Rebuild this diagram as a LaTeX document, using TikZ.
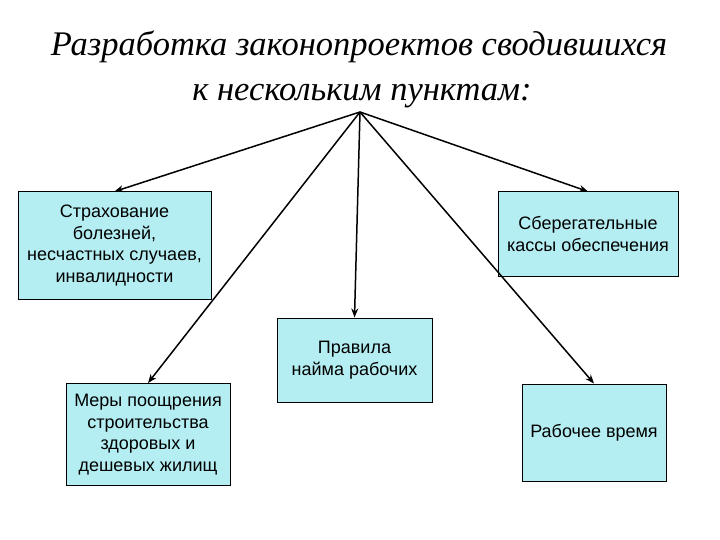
\documentclass[tikz,border=0pt]{standalone}
\usepackage{fontspec}
\setmainfont{Liberation Sans}
\newfontfamily\titlefont{Liberation Serif}
\usetikzlibrary{arrows.meta}
\definecolor{boxfill}{RGB}{180,238,242}
\begin{document}
\begin{tikzpicture}[x=1pt,y=-1pt,
  box/.style={draw=black, line width=1pt, fill=boxfill, inner sep=1pt,
    align=center, font=\fontsize{18}{21.5}\selectfont},
  conn/.style={line width=1.5pt, -{Stealth[length=9pt,width=7pt]}}]
\useasboundingbox (0,0) rectangle (720,540);
\fill[white] (0,0) rectangle (720,540);
\node[anchor=base, font=\titlefont\itshape\fontsize{34.5}{40}\selectfont] (t1) at (359,56) {Разработка законопроектов сводившихся};
\node[anchor=base, font=\titlefont\itshape\fontsize{34.5}{40}\selectfont] (t2) at (362,101) {к нескольким пунктам:};
\coordinate (apex) at (360,112);
\node[box, minimum width=193pt, minimum height=107pt] (b1) at (114.5,245.5) {Страхование\\болезней,\\несчастных случаев,\\инвалидности};
\node[box, minimum width=180pt, minimum height=84pt] (b2) at (588,234) {Сберегательные\\кассы обеспечения};
\node[box, minimum width=155pt, minimum height=84pt] (b3) at (354.5,360) {Правила\\найма рабочих};
\node[box, minimum width=164pt, minimum height=102pt] (b4) at (148,434.5) {Меры поощрения\\строительства\\здоровых и\\дешевых жилищ};
\node[box, minimum width=144pt, minimum height=97pt] (b5) at (594,432.5) {Рабочее время};
\foreach \b in {b1,b2,b3,b4,b5} \draw[conn] (apex) -- (\b.north);
\end{tikzpicture}
\end{document}
